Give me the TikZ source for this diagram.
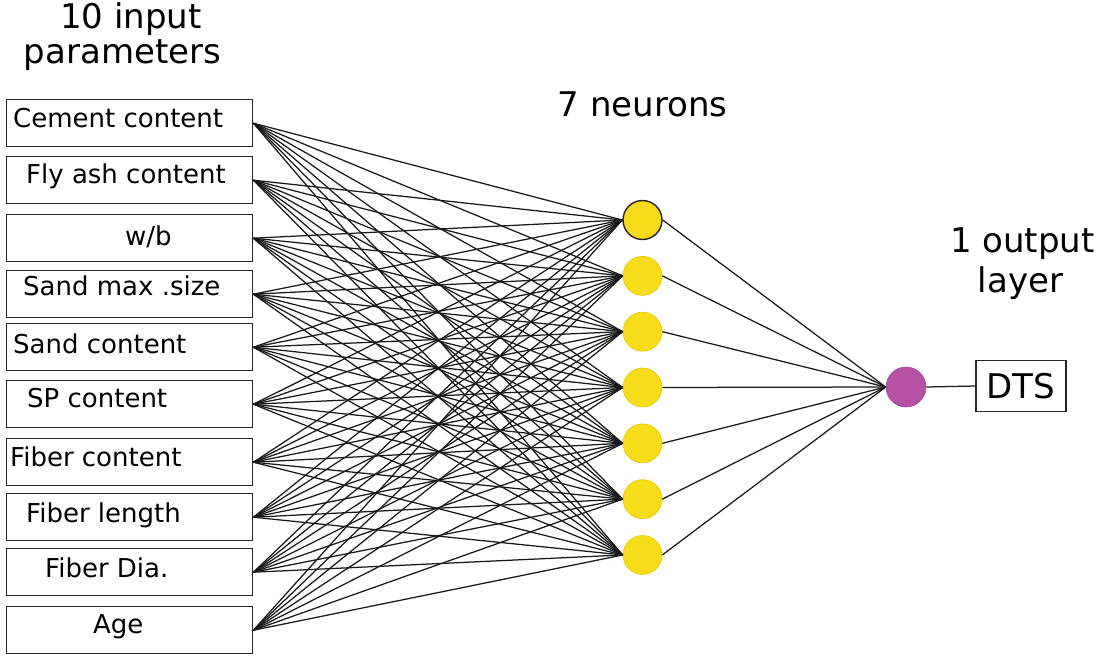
\documentclass[tikz,border=0pt]{standalone}
\usepackage{fontspec}
\setmainfont{DejaVu Sans}
\definecolor{neuronyellow}{HTML}{F7DC1A}
\definecolor{neuronedge}{HTML}{E8C800}
\definecolor{outmagenta}{HTML}{B552A5}
\begin{document}
\begin{tikzpicture}[x=1pt,y=-1pt,
  inbox/.style={draw=black!85,line width=1.4pt,minimum width=246pt,minimum height=47pt,inner sep=0pt,anchor=north west},
  boxtext/.style={anchor=base west,inner sep=0pt,font=\fontsize{26}{30}\selectfont},
  headtext/.style={anchor=base,inner sep=0pt,font=\fontsize{34}{38}\selectfont},
  neuron/.style={circle,fill=neuronyellow,draw=neuronedge,line width=0.6pt,minimum size=39pt,inner sep=0pt},
  firstneuron/.style={neuron,draw=black!85,line width=1.4pt},
  outneuron/.style={circle,fill=outmagenta,draw=outmagenta!90!black,line width=0.6pt,minimum size=40pt,inner sep=0pt},
  outbox/.style={draw=black!85,line width=1.4pt,minimum width=90pt,minimum height=51pt,inner sep=0pt,font=\fontsize{34}{38}\selectfont},
  link/.style={draw=black!90,line width=1.25pt}]
\useasboundingbox (0,0) rectangle (1100,659);

% headers
\node[headtext] (h1a) at (131,28) {10 input};
\node[headtext] (h1b) at (122.5,63) {parameters};
\node[headtext] (h2) at (642.5,116) {7 neurons};
\node[headtext] (h3a) at (1022.5,252) {1 output};
\node[headtext] (h3b) at (1020.5,292) {layer};

% input boxes
\foreach \i/\top in {1/99,2/156,3/214,4/270,5/323,6/380,7/438,8/493,9/548,10/606}{
  \node[inbox] (i\i) at (6,\top) {};
}
% input labels
\node[boxtext] (t1) at (13,127) {Cement content};
\node[boxtext] (t2) at (26,183) {Fly ash content};
\node[boxtext] (t3) at (125,245) {w/b};
\node[boxtext] (t4) at (23,295) {Sand max .size};
\node[boxtext] (t5) at (13,353) {Sand content};
\node[boxtext] (t6) at (27,407) {SP content};
\node[boxtext] (t7) at (10,466) {Fiber content};
\node[boxtext] (t8) at (26,522) {Fiber length};
\node[boxtext] (t9) at (45,577) {Fiber Dia.};
\node[boxtext] (t10) at (93,633) {Age};

% hidden neurons
\foreach \j in {1,...,7}{
  \pgfmathsetmacro{\yy}{220+(\j-1)*55.83}
  \ifnum\j=1
    \node[firstneuron] (n\j) at (642.5,\yy) {};
  \else
    \node[neuron] (n\j) at (642.5,\yy) {};
  \fi
}

% output neuron and box
\node[outneuron] (o) at (906,387) {};
\node[outbox] (dts) at (1021,386) {DTS};

% connections
\foreach \i in {1,...,10}{
  \foreach \j in {1,...,7}{
    \draw[link] (i\i.east) -- (n\j.west);
  }
}
\foreach \j in {1,...,7}{
  \draw[link] (n\j.east) -- (o.west);
}
\draw[link] (o.east) -- (dts.west);
\end{tikzpicture}
\end{document}
